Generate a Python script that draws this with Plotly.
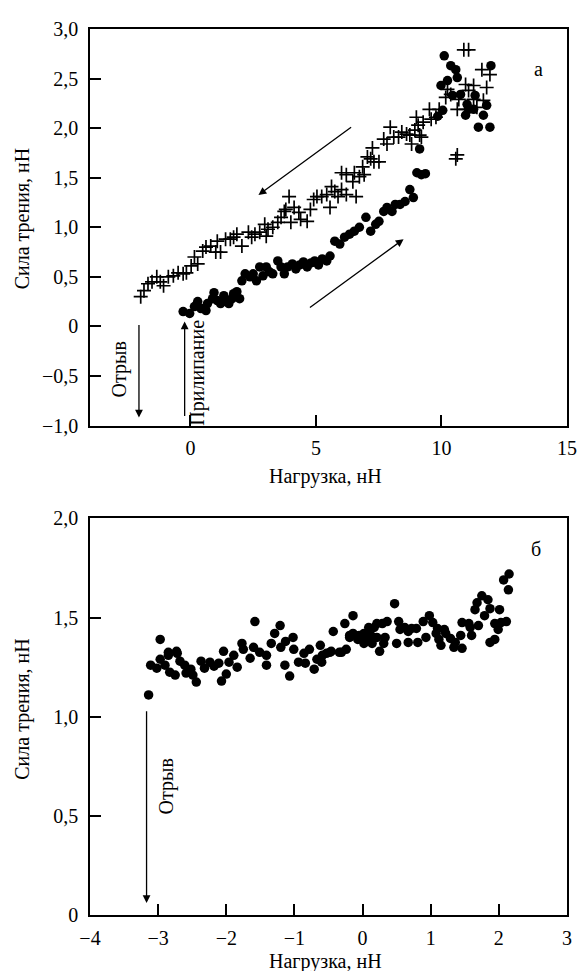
import plotly.graph_objects as go

# ---------- data: panel а ----------
unload_x = [-1.98,-1.85,-1.69,-1.53,-1.34,-1.20,-1.07,-0.88,-0.68,-0.49,-0.29,-0.16,0.03,0.16,0.29,0.49,0.62,0.81,
            1.01,1.20,1.07,1.40,1.59,1.72,1.85,2.05,2.31,2.44,2.57,2.76,2.96,3.09,3.02,3.28,3.48,3.61,3.74,3.80,3.93,
            4.00,4.13,4.32,4.39,4.65,4.78,4.91,5.04,5.23,5.43,5.56,5.62,5.75,5.88,6.02,6.21,6.60,6.02,6.21,6.47,6.53,
            6.73,6.92,6.86,7.05,7.18,7.31,7.51,7.25,7.70,7.83,7.96,8.10,8.29,8.42,8.61,8.74,8.94,8.81,9.20,9.07,9.00,
            9.27,9.13,9.52,9.59,9.78,9.91,10.17,10.24,10.37,10.69,10.63,10.96,10.96,11.08,11.28,11.28,11.41,11.67,
            11.80,11.61,11.93,10.89,11.08,10.57,10.63]
unload_y = [0.30,0.36,0.43,0.45,0.50,0.45,0.41,0.50,0.51,0.54,0.53,0.54,0.61,0.70,0.63,0.76,0.80,0.81,
            0.75,0.75,0.86,0.88,0.88,0.90,0.93,0.81,0.95,0.90,0.93,0.95,1.03,0.98,0.91,1.00,1.05,1.10,1.16,1.18,1.31,
            1.05,1.20,1.15,1.08,1.06,1.18,1.28,1.31,1.31,1.33,1.20,1.41,1.36,1.31,1.38,1.33,1.31,1.55,1.53,1.46,1.55,
            1.51,1.53,1.61,1.71,1.69,1.66,1.66,1.80,1.89,1.84,2.01,1.91,1.91,1.96,1.94,1.93,1.98,1.84,1.91,2.03,2.11,
            2.06,1.93,2.19,2.09,2.11,2.19,2.31,2.39,2.34,2.29,2.19,2.19,2.44,2.38,2.43,2.29,2.21,2.28,
            2.41,2.59,2.54,2.79,2.79,1.69,1.73]

load_x = [-0.29,-0.03,0.16,0.29,0.42,0.62,0.68,0.88,0.94,1.07,1.20,1.33,1.40,1.53,1.66,1.72,1.85,1.96,2.05,2.18,
          2.37,2.50,2.63,2.76,2.89,3.02,3.15,3.28,3.48,3.61,3.74,3.87,4.06,4.20,4.35,4.50,4.65,4.80,4.95,5.10,5.25,
          5.43,5.56,5.75,5.95,6.14,6.34,6.53,6.73,6.99,7.18,7.38,7.51,7.70,7.83,8.03,8.16,8.35,8.55,8.74,8.88,
          9.02,9.20,9.36,9.13,9.85,10.05,9.98,10.11,10.24,10.37,10.57,10.63,10.76,10.44,11.02,11.08,11.34,11.80,
          11.67,10.96,11.47,11.93,11.97,11.28]
load_y = [0.15,0.13,0.20,0.25,0.18,0.16,0.23,0.28,0.34,0.26,0.23,0.31,0.25,0.23,0.28,0.33,0.35,0.28,0.46,0.53,
          0.50,0.53,0.46,0.60,0.51,0.60,0.55,0.53,0.66,0.60,0.53,0.60,0.63,0.58,0.62,0.65,0.60,0.64,0.66,0.62,0.68,
          0.66,0.71,0.86,0.83,0.90,0.93,0.96,1.00,1.10,0.96,1.03,1.06,1.16,1.20,1.16,1.23,1.23,1.26,1.38,1.30,
          1.55,1.53,1.54,1.79,2.12,2.18,2.43,2.73,2.48,2.63,2.59,2.51,2.34,2.33,2.24,2.19,2.33,2.23,
          2.13,2.13,2.01,2.01,2.63,2.19]

# ---------- data: panel б ----------
b_x = [-3.14,-3.11,-3.02,-2.97,-2.97,-2.90,-2.85,-2.85,-2.83,-2.75,-2.73,-2.72,-2.68,-2.61,-2.59,-2.52,-2.49,-2.44,
       -2.37,-2.32,-2.24,-2.18,-2.11,-2.07,-2.04,-2.00,-1.96,-1.89,-1.84,-1.77,-1.75,-1.65,-1.60,-1.58,-1.51,-1.41,
       -1.41,-1.34,-1.29,-1.21,-1.20,-1.14,-1.13,-1.07,-1.02,-1.01,-0.94,-0.86,-0.84,-0.78,-0.71,-0.67,-0.62,-0.60,
       -0.59,-0.53,-0.48,-0.46,-0.43,-0.34,-0.31,-0.26,-0.24,-0.19,-0.19,-0.14,-0.14,-0.07,-0.05,0.02,0.02,0.05,
       0.09,0.12,0.14,0.17,0.21,0.21,0.25,0.29,0.31,0.33,0.36,0.47,0.50,0.53,0.55,0.62,0.67,0.67,0.72,0.79,0.81,
       0.89,0.93,0.98,1.03,1.08,1.10,1.12,1.15,1.20,1.22,1.29,1.34,1.36,1.44,1.46,1.46,1.56,1.58,1.60,1.65,1.68,
       1.70,1.75,1.79,1.84,1.87,1.87,1.94,1.94,1.99,2.01,2.03,2.07,2.11,2.14,2.15]
b_y = [1.11,1.26,1.245,1.29,1.39,1.26,1.31,1.325,1.225,1.21,1.33,1.32,1.28,1.26,1.22,1.24,1.21,1.175,
       1.28,1.245,1.275,1.255,1.27,1.18,1.33,1.215,1.275,1.31,1.25,1.37,1.34,1.295,1.35,1.48,1.325,1.31,
       1.26,1.37,1.42,1.46,1.35,1.26,1.38,1.205,1.40,1.34,1.275,1.32,1.27,1.34,1.24,1.29,1.36,1.275,
       1.31,1.32,1.325,1.33,1.43,1.325,1.325,1.47,1.34,1.41,1.40,1.51,1.42,1.39,1.41,1.42,1.37,1.39,
       1.45,1.41,1.37,1.45,1.47,1.40,1.33,1.47,1.37,1.40,1.48,1.57,1.37,1.48,1.44,1.45,1.43,1.375,1.445,1.445,1.375,
       1.48,1.40,1.51,1.475,1.42,1.445,1.39,1.36,1.44,1.42,1.395,1.35,1.375,1.41,1.475,1.345,1.47,1.45,1.41,1.54,1.575,
       1.46,1.61,1.51,1.59,1.545,1.375,1.47,1.39,1.44,1.54,1.475,1.69,1.48,1.64,1.72]

# tick labels
a_xticks = [0, 5, 10, 15]
a_yticks = [-1.0, -0.5, 0, 0.5, 1.0, 1.5, 2.0, 2.5, 3.0]
a_ylabels = ["\u22121,0", "\u22120,5", "0", "0,5", "1,0", "1,5", "2,0", "2,5", "3,0"]
b_xticks = [-4, -3, -2, -1, 0, 1, 2, 3]
b_xlabels = ["\u22124", "\u22123", "\u22122", "\u22121", "0", "1", "2", "3"]
b_yticks = [0, 0.5, 1.0, 1.5, 2.0]
b_ylabels = ["0", "0,5", "1,0", "1,5", "2,0"]

FONT = "Liberation Serif"
FS = 20

fig = go.Figure()
fig.add_trace(go.Scatter(x=unload_x, y=unload_y, mode="markers", xaxis="x", yaxis="y",
                         marker=dict(symbol="cross-thin", size=10, color="black",
                                     line=dict(color="black", width=1.7)), showlegend=False))
fig.add_trace(go.Scatter(x=load_x, y=load_y, mode="markers", xaxis="x", yaxis="y",
                         marker=dict(symbol="circle", size=9.5, color="black"), showlegend=False))
fig.add_trace(go.Scatter(x=b_x, y=b_y, mode="markers", xaxis="x2", yaxis="y2",
                         marker=dict(symbol="circle", size=9.5, color="black"), showlegend=False))

# page body has an 8px margin: figure origin is at (8, 8) in the window
OFF = 8
W, H = 579, 963
L, R, T, B = 82, 10, 11, 56
PW, PH = W - L - R, H - T - B


def X(px):
    return (px - OFF - L) / PW


def Y(py):
    return (OFF + H - B - py) / PH


axis_common = dict(showline=True, linecolor="black", linewidth=1.5, mirror=True, ticks="inside",
                   ticklen=11, tickwidth=1.5, tickcolor="black", showgrid=False, zeroline=False,
                   tickfont=dict(family=FONT, size=FS, color="black"))

fig.update_layout(
    width=W, height=H, margin=dict(l=L, r=R, t=T, b=B),
    paper_bgcolor="white", plot_bgcolor="white",
    font=dict(family=FONT, size=FS, color="black"),
    xaxis=dict(axis_common, range=[-4, 15], tickvals=a_xticks, ticktext=[str(v) for v in a_xticks],
               anchor="y", domain=[0, 1], ticklabelstandoff=4),
    yaxis=dict(axis_common, range=[-1, 3], tickvals=a_yticks, ticktext=a_ylabels,
               anchor="x", domain=[Y(420), 1], ticklabelstandoff=6),
    xaxis2=dict(axis_common, range=[-4, 3], tickvals=b_xticks, ticktext=b_xlabels,
                anchor="y2", domain=[0, 1], ticklabelstandoff=4),
    yaxis2=dict(axis_common, range=[0, 2], tickvals=b_yticks, ticktext=b_ylabels,
                anchor="x2", domain=[0, Y(514)], ticklabelstandoff=6),
)

ann = []
# axis titles
ann.append(dict(text="Нагрузка, нН", xref="paper", yref="paper", x=X(330), y=Y(472),
                showarrow=False, font=dict(family=FONT, size=FS), xanchor="center", yanchor="middle"))
ann.append(dict(text="Нагрузка, нН", xref="paper", yref="paper", x=X(330), y=Y(962),
                showarrow=False, font=dict(family=FONT, size=FS), xanchor="center", yanchor="middle"))
ann.append(dict(text="Сила трения, нН", xref="paper", yref="paper", x=X(21), y=Y(210),
                showarrow=False, textangle=-90, font=dict(family=FONT, size=FS),
                xanchor="center", yanchor="middle"))
ann.append(dict(text="Сила трения, нН", xref="paper", yref="paper", x=X(21), y=Y(706),
                showarrow=False, textangle=-90, font=dict(family=FONT, size=FS),
                xanchor="center", yanchor="middle"))
# panel letters
ann.append(dict(text="а", xref="paper", yref="paper", x=X(555), y=Y(46), showarrow=False,
                font=dict(family=FONT, size=FS)))
ann.append(dict(text="б", xref="paper", yref="paper", x=X(553), y=Y(545), showarrow=False,
                font=dict(family=FONT, size=FS)))

arrow_style = dict(showarrow=True, arrowhead=2, arrowsize=1.2, arrowwidth=1.3, arrowcolor="black", text="")
# panel а arrows
ann.append(dict(arrow_style, xref="x", yref="y", axref="x", ayref="y", x=-2.05, y=-0.92, ax=-2.05, ay=0.03))
ann.append(dict(arrow_style, xref="x", yref="y", axref="x", ayref="y", x=-0.23, y=0.05, ax=-0.23, ay=-0.92))
ann.append(dict(arrow_style, xref="x", yref="y", axref="x", ayref="y", x=2.71, y=1.325, ax=6.46, ay=2.02))
ann.append(dict(arrow_style, xref="x", yref="y", axref="x", ayref="y", x=8.49, y=0.88, ax=4.70, ay=0.18))
ann.append(dict(text="Отрыв", xref="x", yref="y", x=-2.83, y=-0.43, showarrow=False, textangle=-90,
                font=dict(family=FONT, size=FS)))
ann.append(dict(text="Прилипание", xref="x", yref="y", x=0.29, y=-0.47, showarrow=False, textangle=-90,
                font=dict(family=FONT, size=FS)))
# panel б arrow
ann.append(dict(arrow_style, xref="x2", yref="y2", axref="x2", ayref="y2", x=-3.17, y=0.06, ax=-3.17, ay=1.035))
ann.append(dict(text="Отрыв", xref="x2", yref="y2", x=-2.88, y=0.65, showarrow=False, textangle=-90,
                font=dict(family=FONT, size=FS)))

fig.update_layout(annotations=ann)
fig.write_html("out.html")
